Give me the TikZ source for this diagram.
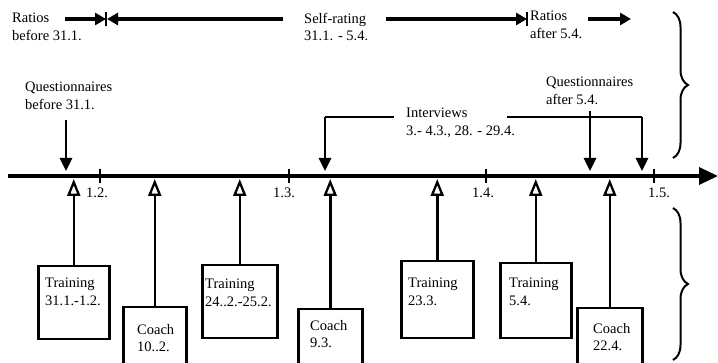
\documentclass[tikz,border=0pt]{standalone}
\usepackage{fontspec}
\setmainfont{Liberation Serif}
\usetikzlibrary{arrows.meta,decorations.pathreplacing}
\begin{document}
\begin{tikzpicture}[x=1pt,y=-1pt,
  lbl/.style={anchor=north west, inner sep=0pt, align=left, font=\fontsize{14.5}{17.5}\selectfont},
  datelbl/.style={anchor=north, inner sep=0pt, font=\fontsize{14.5}{17.5}\selectfont},
  boxnode/.style={draw, line width=2.5pt, anchor=north west, inner sep=0pt},
  timeline/.style={line width=3.5pt, -{Triangle[length=19pt,width=17pt]}},
  tickmark/.style={line width=2.2pt},
  toparrow/.style={line width=3.5pt, -{Triangle[length=11pt,width=12pt]}},
  downarrow/.style={line width=2.8pt, -{Triangle[length=13pt,width=12pt]}},
  uparrow/.style={line width=2.5pt, -{Triangle[open,length=17pt,width=13pt,line width=2.3pt]}},
  elbow/.style={line width=2.8pt},
  bracestyle/.style={line width=2pt, decorate, decoration={brace, amplitude=15pt, aspect=0.5}}]
\useasboundingbox (0,0) rectangle (718,363);

% timeline
\coordinate (tl0) at (8,176);
\coordinate (tl1) at (718,176);
\coordinate (tltop) at (0,171);
\coordinate (tlbot) at (0,179);
\draw[timeline] (tl0) -- (tl1);
\foreach \x/\nm in {100/t2, 289/t3, 486/t4, 654/t5} {
  \coordinate (\nm a) at (\x,169);
  \coordinate (\nm b) at (\x,183);
  \draw[tickmark] (\nm a) -- (\nm b);
}
\node[datelbl] (d2) at (97,188) {1.2.};
\node[datelbl] (d3) at (284,188) {1.3.};
\node[datelbl] (d4) at (483,188) {1.4.};
\node[datelbl] (d5) at (659,188) {1.5.};

% top row
\node[lbl] (rb) at (12,13) {Ratios\\before 31.1.};
\node[lbl] (sr) at (304,13) {Self-rating\\31.1. - 5.4.};
\node[lbl] (ra) at (530,11) {Ratios\\after 5.4.};
\coordinate (r1s) at (65,19);
\coordinate (tk1) at (106,19);
\coordinate (tk1a) at (106,12);
\coordinate (tk1b) at (106,26);
\coordinate (s1s) at (283,19);
\coordinate (tk1c) at (107,19);
\coordinate (s2s) at (386,19);
\coordinate (tk2) at (527,19);
\coordinate (tk2a) at (527,12);
\coordinate (tk2b) at (527,26);
\coordinate (r2s) at (588,19);
\coordinate (r2e) at (631,19);
\draw[toparrow] (r1s) -- (tk1);
\draw[toparrow] (s1s) -- (tk1c);
\draw[tickmark] (tk1a) -- (tk1b);
\draw[toparrow] (s2s) -- (tk2);
\draw[tickmark] (tk2a) -- (tk2b);
\draw[toparrow] (r2s) -- (r2e);

% questionnaires
\node[lbl] (qb) at (25,82) {Questionnaires\\before 31.1.};
\node[lbl] (qa) at (546,77) {Questionnaires\\after 5.4.};
\coordinate (qbs) at (66,120);
\coordinate (qas) at (590,111);
\draw[downarrow] (qbs) -- (qbs |- tltop);
\draw[downarrow] (qas) -- (qas |- tltop);

% interviews
\node[lbl] (iv) at (406,108) {Interviews\\3.- 4.3., 28. - 29.4.};
\coordinate (ivl) at (394,117);
\coordinate (ivlc) at (325,117);
\coordinate (ivr) at (507,117);
\coordinate (ivrc) at (642,117);
\draw[elbow] (ivl) -- (ivlc);
\draw[downarrow] (ivlc) -- (ivlc |- tltop);
\draw[elbow] (ivr) -- (ivrc);
\draw[downarrow] (ivrc) -- (ivrc |- tltop);

% boxes
\node[boxnode, minimum width=71pt, minimum height=73pt] (b1) at (37,265) {};
\node[boxnode, minimum width=63pt, minimum height=65pt] (b2) at (122,306) {};
\node[boxnode, minimum width=75pt, minimum height=73pt] (b3) at (201,264) {};
\node[boxnode, minimum width=64pt, minimum height=63pt] (b4) at (297,308) {};
\node[boxnode, minimum width=72pt, minimum height=77pt] (b5) at (400,260) {};
\node[boxnode, minimum width=71pt, minimum height=75pt] (b6) at (499,262) {};
\node[boxnode, minimum width=65pt, minimum height=64pt] (b7) at (576,307) {};

\node[lbl] (l1) at (45,278) {Training\\31.1.-1.2.};
\node[lbl] (l2) at (137,324) {Coach\\10..2.};
\node[lbl] (l3) at (205,279) {Training\\24..2.-25.2.};
\node[lbl] (l4) at (310,320) {Coach\\9.3.};
\node[lbl] (l5) at (408,278) {Training\\23.3.};
\node[lbl] (l6) at (509,278) {Training\\5.4.};
\node[lbl] (l7) at (593,323) {Coach\\22.4.};

\foreach \b in {b1,b2,b3,b4,b5,b6,b7} {
  \draw[uparrow] (\b.north) -- (\b.north |- tlbot);
}

% braces
\coordinate (br1a) at (673,12);
\coordinate (br1b) at (673,158);
\coordinate (br2a) at (673,208);
\coordinate (br2b) at (673,360);
\draw[bracestyle] (br1a) -- (br1b);
\draw[bracestyle] (br2a) -- (br2b);
\end{tikzpicture}
\end{document}
